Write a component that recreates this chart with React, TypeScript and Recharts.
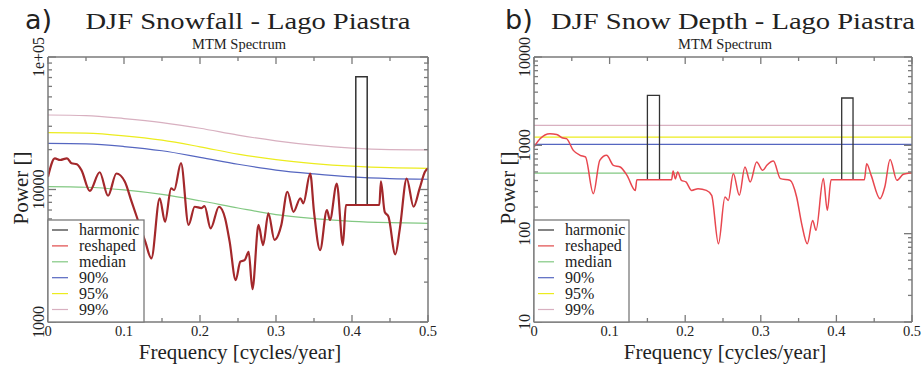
import React from 'react';
import { LineChart, Line, XAxis, YAxis } from 'recharts';

// frequency axis, shared by both panels
const FREQ_TICKS = [0, 0.05, 0.1, 0.15, 0.2, 0.25, 0.3, 0.35, 0.4, 0.45, 0.5];
const CONF_FREQ = [0, 0.05, 0.1, 0.15, 0.2, 0.25, 0.3, 0.35, 0.4, 0.45, 0.5];

// a) DJF Snowfall - Lago Piastra
const SF_TICKS = [
  1000, 2000, 3000, 4000, 5000, 6000, 7000, 8000, 9000,
  10000, 20000, 30000, 40000, 50000, 60000, 70000, 80000, 90000, 100000,
];
const SF_MEDIAN = [10500, 10400, 9930, 9180, 8220, 7250, 6460, 6030, 5750, 5620, 5560];
const SF_P90 = [22300, 22100, 21100, 19600, 17500, 15500, 14000, 13100, 12450, 12100, 11950];
const SF_P95 = [26850, 26600, 25400, 23550, 21000, 18500, 16800, 15700, 15000, 14600, 14450];
const SF_P99 = [36500, 36100, 34300, 32000, 29000, 25700, 23300, 21600, 20500, 20000, 19900];
const SF_RESHAPED_F = [
  0, 0.009, 0.016, 0.025, 0.031, 0.038, 0.044, 0.055, 0.068, 0.079, 0.09, 0.101, 0.11, 0.119,
  0.128, 0.136, 0.147, 0.154, 0.162, 0.166, 0.175, 0.185, 0.193, 0.202, 0.206, 0.214, 0.225,
  0.233, 0.239, 0.247, 0.253, 0.259, 0.264, 0.269, 0.277, 0.283, 0.29, 0.298, 0.303, 0.307,
  0.315, 0.323, 0.332, 0.336, 0.345, 0.35, 0.358, 0.367, 0.371, 0.38, 0.388, 0.392, 0.436,
  0.438, 0.443, 0.448, 0.457, 0.463, 0.472, 0.481, 0.489, 0.496, 0.5,
];
const SF_RESHAPED = [
  12500, 17200, 16700, 17200, 15800, 15500, 14000, 9750, 13500, 8970, 13200, 11500, 8090, 5710,
  4040, 3020, 8590, 5710, 10200, 9890, 15800, 5400, 7410, 7240, 7500, 5090, 7410,
  6070, 4040, 2070, 2850, 2940, 3390, 1770, 5400, 3810, 6610, 4160, 4540, 5400,
  9620, 6790, 8590, 7870, 13200, 6790, 3490, 7000, 5890, 11100, 3810, 7640, 7640,
  11500, 6790, 6240, 3240, 5090, 12100, 7410, 10200, 13600, 14450,
];
const SF_HARMONIC_F = [0.405, 0.405, 0.42, 0.42];
const SF_HARMONIC = [7640, 71000, 71000, 7640];

// b) DJF Snow Depth - Lago Piastra
const SD_TICKS = [
  10, 20, 30, 40, 50, 60, 70, 80, 90,
  100, 200, 300, 400, 500, 600, 700, 800, 900,
  1000, 2000, 3000, 4000, 5000, 6000, 7000, 8000, 9000, 10000,
];
const SD_LEVEL_F = [0, 0.5];
const SD_MEDIAN = [485, 485];
const SD_P90 = [1025, 1025];
const SD_P95 = [1240, 1240];
const SD_P99 = [1680, 1680];
const SD_RESHAPED_F = [
  0, 0.008, 0.021, 0.03, 0.037, 0.043, 0.052, 0.061, 0.068, 0.0785, 0.087, 0.096, 0.105, 0.114,
  0.123, 0.134, 0.136, 0.182, 0.184, 0.187, 0.19, 0.195, 0.201, 0.2086, 0.217, 0.228, 0.235,
  0.244, 0.2526, 0.257, 0.2636, 0.2716, 0.279, 0.286, 0.2945, 0.3025, 0.308, 0.3166, 0.326,
  0.3386, 0.3474, 0.354, 0.3615, 0.3686, 0.373, 0.3827, 0.388, 0.393, 0.437, 0.44, 0.446,
  0.4577, 0.464, 0.471, 0.48, 0.4885, 0.497, 0.5,
];
const SD_RESHAPED = [
  955, 1190, 1355, 1330, 1220, 1190, 877, 771, 738, 284, 676, 771, 594, 569,
  457, 309, 408, 408, 512, 417, 499, 402, 385, 309, 323, 309, 272,
  77, 260, 238, 479, 272, 568, 385, 646, 521, 594, 664, 420,
  402, 260, 130, 77, 141, 109, 420, 184, 408, 408, 620, 457,
  249, 337, 689, 402, 470, 486, 490,
];
const SD_HARMONIC_F = [0.15, 0.15, 0.166, 0.166, 0.3, 0.407, 0.407, 0.422, 0.422];
const SD_HARMONIC = [408, 3680, 3680, 408, null, 408, 3435, 3435, 408];

const LEGEND_NAMES = ['harmonic', 'reshaped', 'median', '90%', '95%', '99%'];

const AXIS = '#7a7a7a';
const SERIF = '"Liberation Serif", "Times New Roman", serif';
const C_HARM = '#333333';
const C_MED = '#82c882';
const C_90 = '#5566c0';
const C_95 = '#ecec1e';
const C_99 = '#d8b0c0';
const LEGEND_COLORS = [C_HARM, '#e04848', C_MED, C_90, C_95, C_99];

const zip = (fs: number[], vs: (number | null)[]) => fs.map((f, i) => ({ f, v: vs[i] }));

const isMajorFreq = (v: number) => Math.abs(v * 10 - Math.round(v * 10)) < 1e-6;
const isDecade = (v: number) => Math.abs(Math.log10(v) - Math.round(Math.log10(v))) < 1e-6;
const fmtFreq = (v: number) => (v === 0 ? '0' : v.toFixed(1));
const fmtPow = (v: number) => (v >= 100000 ? '1e+05' : String(v));

const bottomTick = (p: any) => {
  const v = p.payload.value;
  const major = isMajorFreq(v);
  return (
    <g>
      <line x1={p.x} x2={p.x} y1={p.y} y2={p.y - (major ? 7 : 4)} stroke={AXIS} strokeWidth={1.3} />
      {major && (
        <text x={p.x} y={p.y + 14} textAnchor="middle" fontFamily={SERIF} fontSize={14.5} fill="#222">
          {fmtFreq(v)}
        </text>
      )}
    </g>
  );
};

const topTick = (p: any) => {
  const major = isMajorFreq(p.payload.value);
  return <line x1={p.x} x2={p.x} y1={p.y} y2={p.y + (major ? 7 : 4)} stroke={AXIS} strokeWidth={1.3} />;
};

const leftTick = (p: any) => {
  const v = p.payload.value;
  const major = isDecade(v);
  return (
    <g>
      <line x1={p.x} x2={p.x + (major ? 8 : 4)} y1={p.y} y2={p.y} stroke={AXIS} strokeWidth={1.3} />
      {major && (
        <text
          transform={`translate(${p.x - 4},${p.y}) rotate(-90)`}
          textAnchor="middle"
          fontFamily={SERIF}
          fontSize={16}
          fill="#222"
        >
          {fmtPow(v)}
        </text>
      )}
    </g>
  );
};

const rightTick = (p: any) => {
  const major = isDecade(p.payload.value);
  return <line x1={p.x} x2={p.x - (major ? 8 : 4)} y1={p.y} y2={p.y} stroke={AXIS} strokeWidth={1.3} />;
};

type Series = { key: string; data: { f: number; v: number | null }[]; color: string; width: number; type: 'monotone' | 'linear' };

// every axis is 1px thick, so the plot box equals margin + 1
const Panel = ({ left, marginLeft, marginRight, domain, ticks, series }: {
  left: number; marginLeft: number; marginRight: number; domain: [number, number]; ticks: number[]; series: Series[];
}) => (
  <div style={{ position: 'absolute', left, top: 0 }}>
    <LineChart width={462} height={365} margin={{ top: 56, right: marginRight - 1, bottom: 42, left: marginLeft - 1 }}>
      <XAxis
        dataKey="f"
        type="number"
        domain={[0, 0.5]}
        allowDataOverflow
        ticks={FREQ_TICKS}
        interval={0}
        height={1}
        tickSize={0}
        tickMargin={0}
        tickLine={false}
        tick={bottomTick}
        axisLine={{ stroke: AXIS, strokeWidth: 1.5 }}
      />
      <XAxis
        xAxisId="top"
        orientation="top"
        dataKey="f"
        type="number"
        domain={[0, 0.5]}
        allowDataOverflow
        ticks={FREQ_TICKS}
        interval={0}
        height={1}
        tickSize={0}
        tickMargin={0}
        tickLine={false}
        tick={topTick}
        axisLine={{ stroke: AXIS, strokeWidth: 1.5 }}
      />
      <YAxis
        scale="log"
        type="number"
        domain={domain}
        allowDataOverflow
        ticks={ticks}
        interval={0}
        width={1}
        tickSize={0}
        tickMargin={0}
        tickLine={false}
        tick={leftTick}
        axisLine={{ stroke: AXIS, strokeWidth: 1.5 }}
      />
      <YAxis
        yAxisId="right"
        orientation="right"
        scale="log"
        type="number"
        domain={domain}
        allowDataOverflow
        ticks={ticks}
        interval={0}
        width={1}
        tickSize={0}
        tickMargin={0}
        tickLine={false}
        tick={rightTick}
        axisLine={{ stroke: AXIS, strokeWidth: 1.5 }}
      />
      {series.map((s) => (
        <Line
          key={s.key}
          data={s.data}
          dataKey="v"
          type={s.type}
          stroke={s.color}
          strokeWidth={s.width}
          dot={false}
          activeDot={false}
          isAnimationActive={false}
        />
      ))}
    </LineChart>
  </div>
);

const seriesA: Series[] = [
  { key: 'median', data: zip(CONF_FREQ, SF_MEDIAN), color: C_MED, width: 1.2, type: 'monotone' },
  { key: 'p90', data: zip(CONF_FREQ, SF_P90), color: C_90, width: 1.2, type: 'monotone' },
  { key: 'p95', data: zip(CONF_FREQ, SF_P95), color: C_95, width: 1.2, type: 'monotone' },
  { key: 'p99', data: zip(CONF_FREQ, SF_P99), color: C_99, width: 1.2, type: 'monotone' },
  { key: 'harmonic', data: zip(SF_HARMONIC_F, SF_HARMONIC), color: C_HARM, width: 1.5, type: 'linear' },
  { key: 'reshaped', data: zip(SF_RESHAPED_F, SF_RESHAPED), color: '#a3282b', width: 2.2, type: 'monotone' },
];

const seriesB: Series[] = [
  { key: 'median', data: zip(SD_LEVEL_F, SD_MEDIAN), color: C_MED, width: 1.2, type: 'linear' },
  { key: 'p90', data: zip(SD_LEVEL_F, SD_P90), color: C_90, width: 1.2, type: 'linear' },
  { key: 'p95', data: zip(SD_LEVEL_F, SD_P95), color: C_95, width: 1.2, type: 'linear' },
  { key: 'p99', data: zip(SD_LEVEL_F, SD_P99), color: C_99, width: 1.2, type: 'linear' },
  { key: 'harmonic', data: zip(SD_HARMONIC_F, SD_HARMONIC), color: C_HARM, width: 1.3, type: 'linear' },
  { key: 'reshaped', data: zip(SD_RESHAPED_F, SD_RESHAPED), color: '#e8474f', width: 1.5, type: 'monotone' },
];

const LegendBox = ({ x, w }: { x: number; w: number }) => (
  <g>
    <rect x={x} y={220} width={w} height={102} fill="#fff" stroke={AXIS} strokeWidth={1.3} />
    {LEGEND_NAMES.map((name, i) => {
      const base = 235 + i * 15.9;
      return (
        <g key={name}>
          <line x1={x + 4} x2={x + 20} y1={base - 5} y2={base - 5} stroke={LEGEND_COLORS[i]} strokeWidth={1.2} />
          <text x={x + 31} y={base} fontFamily={SERIF} fontSize={16} fill="#222">
            {name}
          </text>
        </g>
      );
    })}
  </g>
);

const Labels = () => (
  <svg width={924} height={365} style={{ position: 'absolute', left: 0, top: 0, pointerEvents: 'none' }}>
    <text x={25} y={29} fontFamily='"DejaVu Sans", sans-serif' fontSize={27} fill="#222">a)</text>
    <text transform="translate(248,29) scale(1.19,1)" textAnchor="middle" fontFamily={SERIF} fontSize={24} fill="#222">
      DJF Snowfall - Lago Piastra
    </text>
    <text x={239} y={49} textAnchor="middle" fontFamily={SERIF} fontSize={14.5} fill="#222">MTM Spectrum</text>
    <text x={505} y={29} fontFamily='"DejaVu Sans", sans-serif' fontSize={27} fill="#222">b)</text>
    <text transform="translate(733,29) scale(1.19,1)" textAnchor="middle" fontFamily={SERIF} fontSize={24} fill="#222">
      DJF Snow Depth - Lago Piastra
    </text>
    <text x={725} y={49} textAnchor="middle" fontFamily={SERIF} fontSize={14.5} fill="#222">MTM Spectrum</text>

    <text x={240} y={359} textAnchor="middle" fontFamily={SERIF} fontSize={21} fill="#222">Frequency [cycles/year]</text>
    <text x={725} y={359} textAnchor="middle" fontFamily={SERIF} fontSize={21} fill="#222">Frequency [cycles/year]</text>
    <text transform="translate(28,188) rotate(-90)" textAnchor="middle" fontFamily={SERIF} fontSize={21} fill="#222">Power []</text>
    <text transform="translate(515,188) rotate(-90)" textAnchor="middle" fontFamily={SERIF} fontSize={21} fill="#222">Power []</text>

    <LegendBox x={48} w={96} />
    <LegendBox x={534} w={95} />
  </svg>
);

export default function App() {
  return (
    <div style={{ position: 'absolute', left: 0, top: 0, width: 924, height: 365, background: '#fff', overflow: 'hidden' }}>
      <Panel left={0} marginLeft={48} marginRight={34} domain={[1000, 100000]} ticks={SF_TICKS} series={seriesA} />
      <Panel left={462} marginLeft={72} marginRight={12} domain={[10, 10000]} ticks={SD_TICKS} series={seriesB} />
      <Labels />
    </div>
  );
}
